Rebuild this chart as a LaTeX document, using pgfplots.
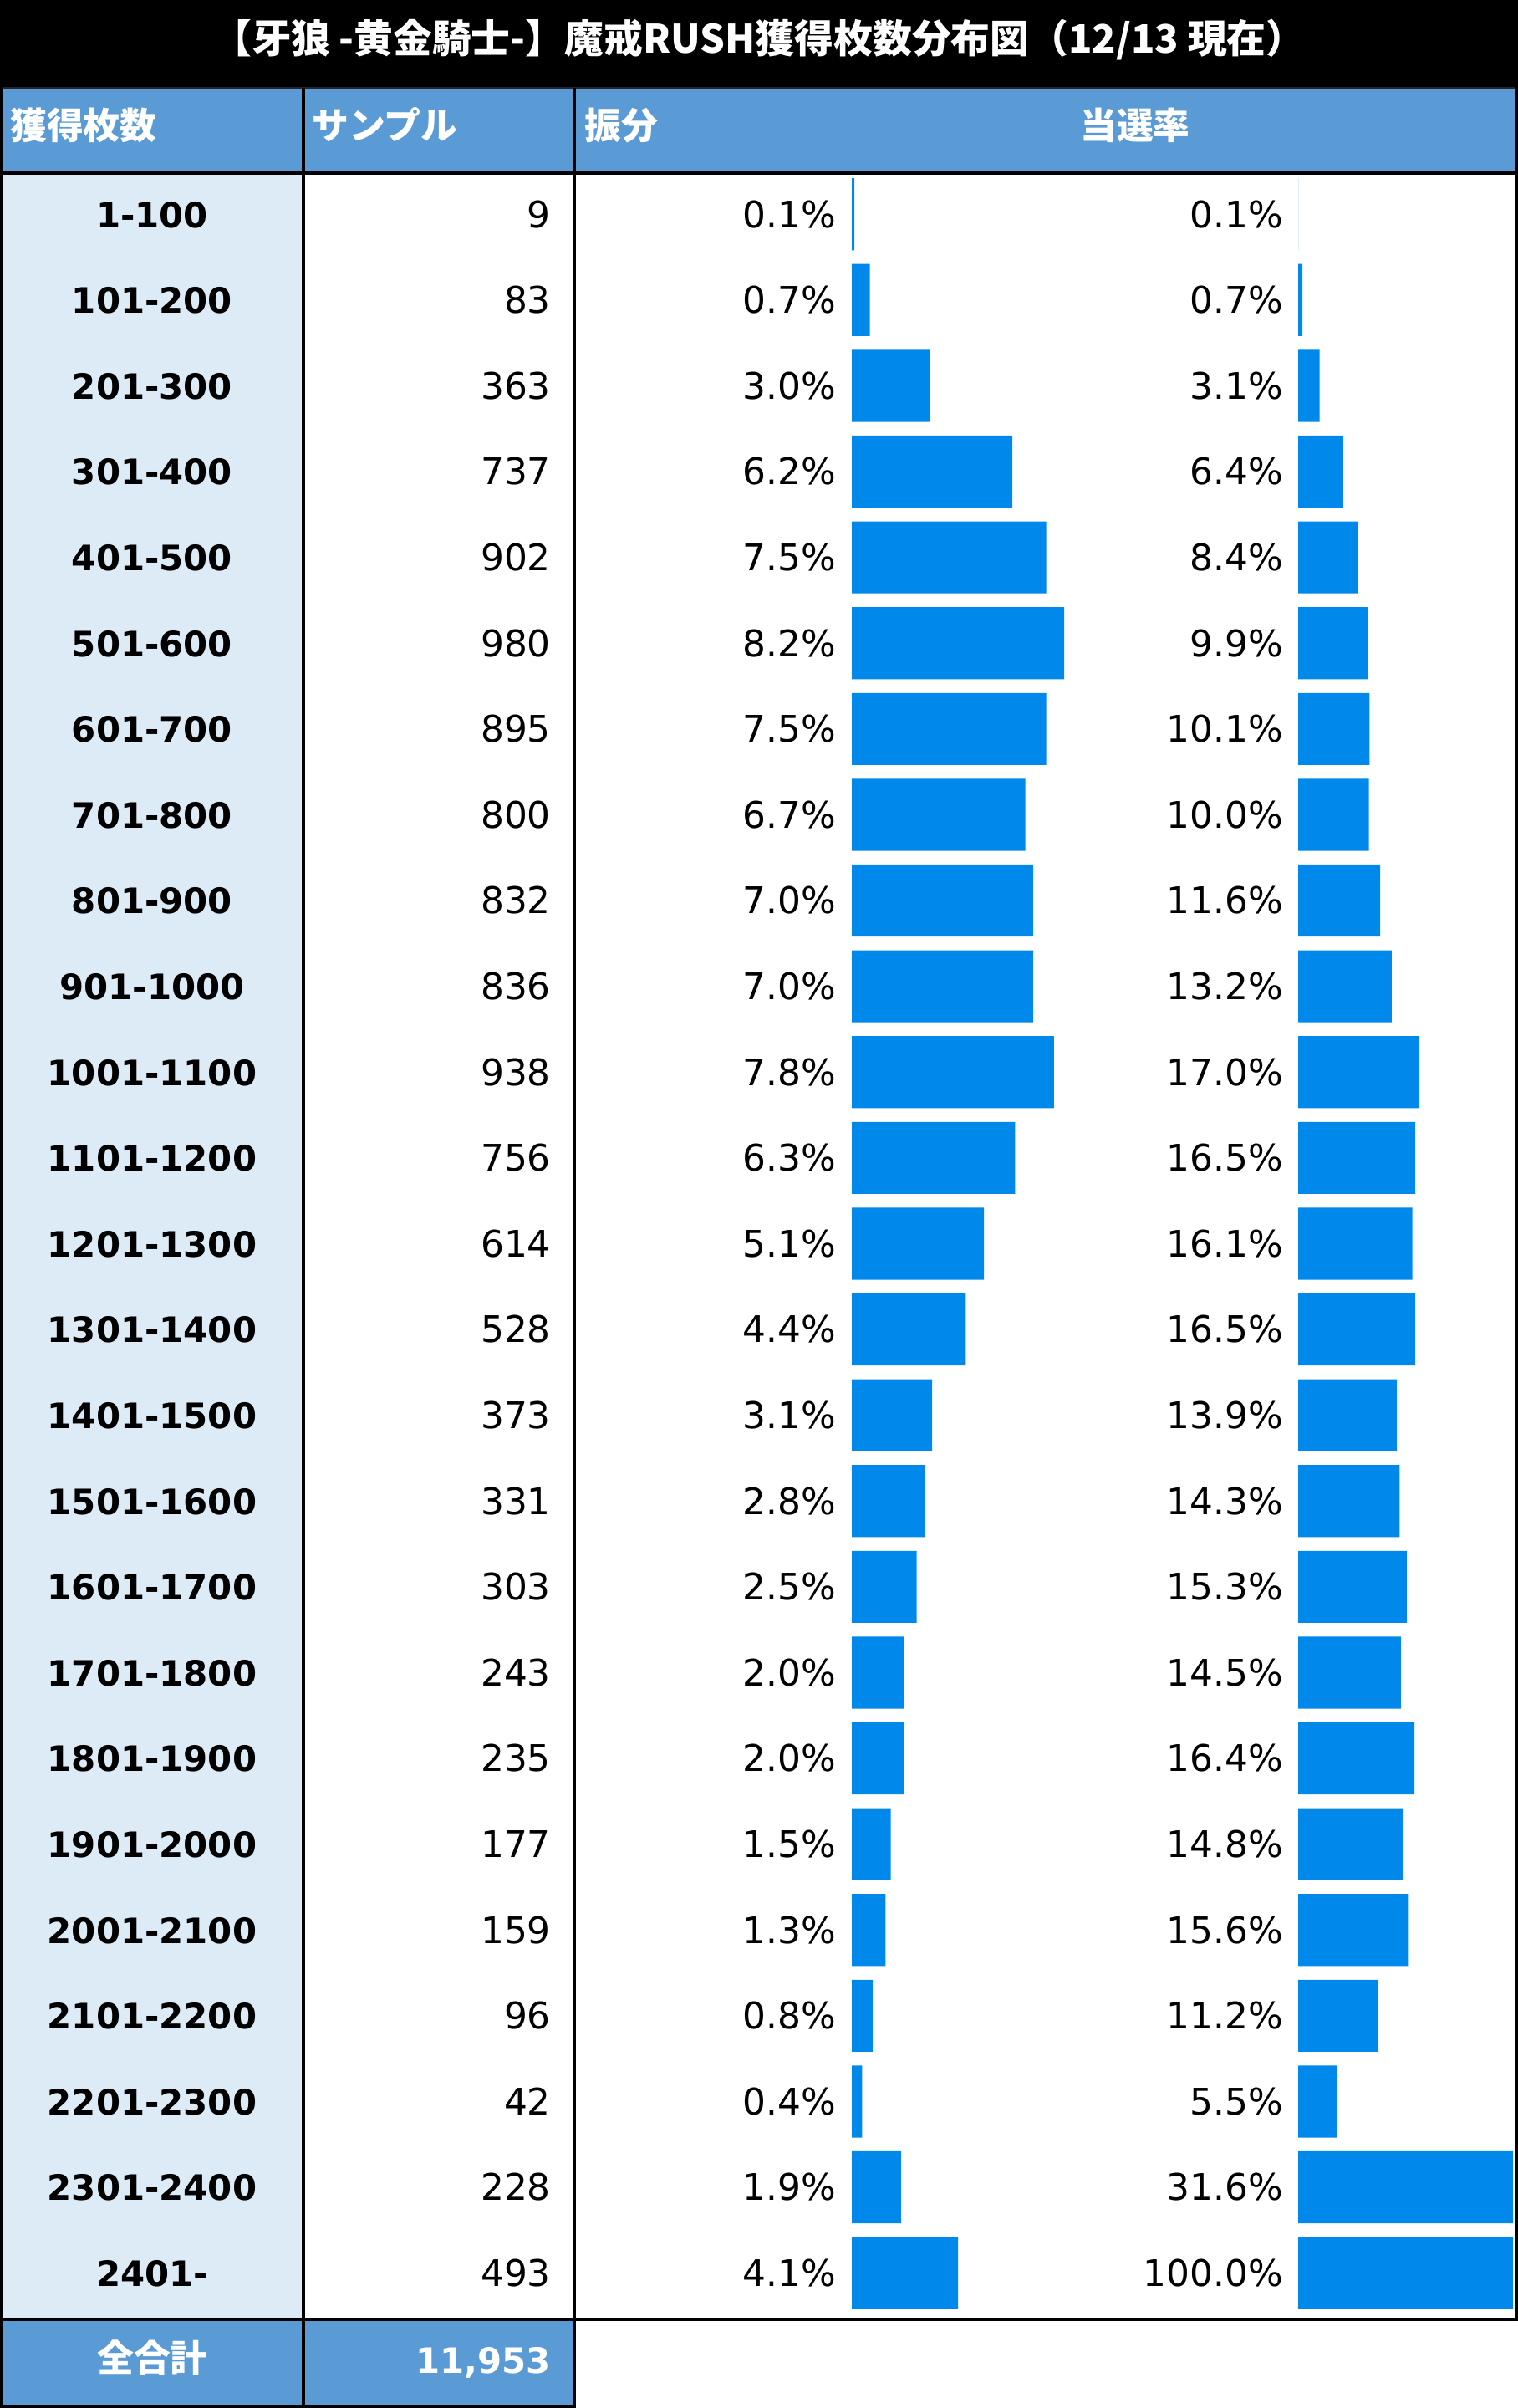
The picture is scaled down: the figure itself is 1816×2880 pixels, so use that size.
\documentclass[border=0pt]{standalone}
\usepackage{pgfplots}
\pgfplotsset{compat=1.18}
\usepackage{pgfplotstable}
\usepackage{fontspec}
\setmainfont{DejaVu Sans}
\newfontfamily\cjk{Noto Sans CJK JP}
\definecolor{hdr}{HTML}{5B9BD5}
\definecolor{light}{HTML}{DDEBF7}
\definecolor{barblue}{HTML}{0088EA}

\pgfplotstableread{
row label sample share rate
1 1-100 9 0.1 0.1
2 101-200 83 0.7 0.7
3 201-300 363 3.0 3.1
4 301-400 737 6.2 6.4
5 401-500 902 7.5 8.4
6 501-600 980 8.2 9.9
7 601-700 895 7.5 10.1
8 701-800 800 6.7 10.0
9 801-900 832 7.0 11.6
10 901-1000 836 7.0 13.2
11 1001-1100 938 7.8 17.0
12 1101-1200 756 6.3 16.5
13 1201-1300 614 5.1 16.1
14 1301-1400 528 4.4 16.5
15 1401-1500 373 3.1 13.9
16 1501-1600 331 2.8 14.3
17 1601-1700 303 2.5 15.3
18 1701-1800 243 2.0 14.5
19 1801-1900 235 2.0 16.4
20 1901-2000 177 1.5 14.8
21 2001-2100 159 1.3 15.6
22 2101-2200 96 0.8 11.2
23 2201-2300 42 0.4 5.5
24 2301-2400 228 1.9 31.6
25 2401- 493 4.1 100.0
}\data

\begin{document}
\begin{tikzpicture}
\path[use as bounding box] (0,0) rectangle (1816bp,-2880bp);
\begin{scope}[x=1bp,y=-1bp]
% backgrounds
\fill[black] (0,0) rectangle (1816,106);
\fill[hdr] (0,106) rectangle (1816,207);
\fill[light] (0,207) rectangle (363,2774);
\fill[hdr] (0,2774) rectangle (687,2880);
\end{scope}

% bars: share
\begin{axis}[at={(1019bp,-2774bp)}, anchor=south west, width=793bp, height=2565bp,
  scale only axis, xmin=0, xmax=25.58, ymin=0.5, ymax=25.5, y dir=reverse,
  hide axis, xbar, bar width=0.84, bar shift=-0.04]
\addplot[fill=barblue, draw=none] table[x=share, y=row] {\data};
\end{axis}
% bars: rate (clipped, scale starts at the smallest value)
\begin{axis}[at={(1553bp,-2774bp)}, anchor=south west, width=257bp, height=2565bp,
  scale only axis, xmin=0.1, xmax=30.2, ymin=0.5, ymax=25.5, y dir=reverse,
  hide axis, xbar, bar width=0.84, bar shift=-0.04, clip=true]
\addplot[fill=barblue, draw=none] table[x=rate, y=row] {\data};
\end{axis}

\begin{scope}[x=1bp,y=-1bp]
% lines
\draw[line width=4bp, black] (0,207) -- (1816,207);
\draw[line width=3bp, black!85] (0,105) -- (1816,105);
\draw[line width=4bp, black] (0,2774) -- (1816,2774);
\draw[line width=4bp, black] (363,105) -- (363,2880);
\draw[line width=4bp, black] (687,105) -- (687,2880);
\draw[line width=4bp, black] (2,0) -- (2,2880);
\draw[line width=4bp, black] (1814,0) -- (1814,2776);
\draw[line width=4bp, black] (0,2878) -- (689,2878);

% title
\node[anchor=base, text=white, font=\cjk\bfseries\fontsize{47}{55}\selectfont, inner sep=0]
  at (908,63) {【牙狼 -黄金騎士-】魔戒RUSH獲得枚数分布図（12/13 現在）};
% header
\begin{scope}[every node/.style={text=white, font=\cjk\bfseries\fontsize{44}{52}\selectfont, inner sep=0, anchor=base west}]
\node at (12,166) {獲得枚数};
\node at (373,166) {サンプル};
\node at (699,166) {振分};
\node[anchor=base] at (1358,166) {当選率};
\end{scope}

% rows
\pgfplotstablegetrowsof{\data}
\pgfmathtruncatemacro\N{\pgfplotsretval-1}
\foreach \i in {0,...,\N}{
  \pgfmathsetmacro\yb{209+102.6*\i+63}
  \pgfplotstablegetelem{\i}{label}\of{\data}\let\lab\pgfplotsretval
  \node[anchor=base, inner sep=0, font=\bfseries\fontsize{42}{50}\selectfont] at (182,\yb) {\lab};
  \pgfplotstablegetelem{\i}{sample}\of{\data}\let\smp\pgfplotsretval
  \node[anchor=base east, inner sep=0, font=\fontsize{44}{52}\selectfont] at (659,\yb) {\smp};
  \pgfplotstablegetelem{\i}{share}\of{\data}\let\shr\pgfplotsretval
  \node[anchor=base east, inner sep=0, font=\fontsize{44}{52}\selectfont] at (1000,\yb) {\shr\%};
  \pgfplotstablegetelem{\i}{rate}\of{\data}\let\rt\pgfplotsretval
  \node[anchor=base east, inner sep=0, font=\fontsize{44}{52}\selectfont] at (1535,\yb) {\rt\%};
}
% total
\node[anchor=base, inner sep=0, text=white, font=\cjk\bfseries\fontsize{44}{52}\selectfont] at (182,2836) {全合計};
\node[anchor=base east, inner sep=0, text=white, font=\bfseries\fontsize{42}{50}\selectfont] at (659,2838) {11,953};
\end{scope}
\end{tikzpicture}
\end{document}
